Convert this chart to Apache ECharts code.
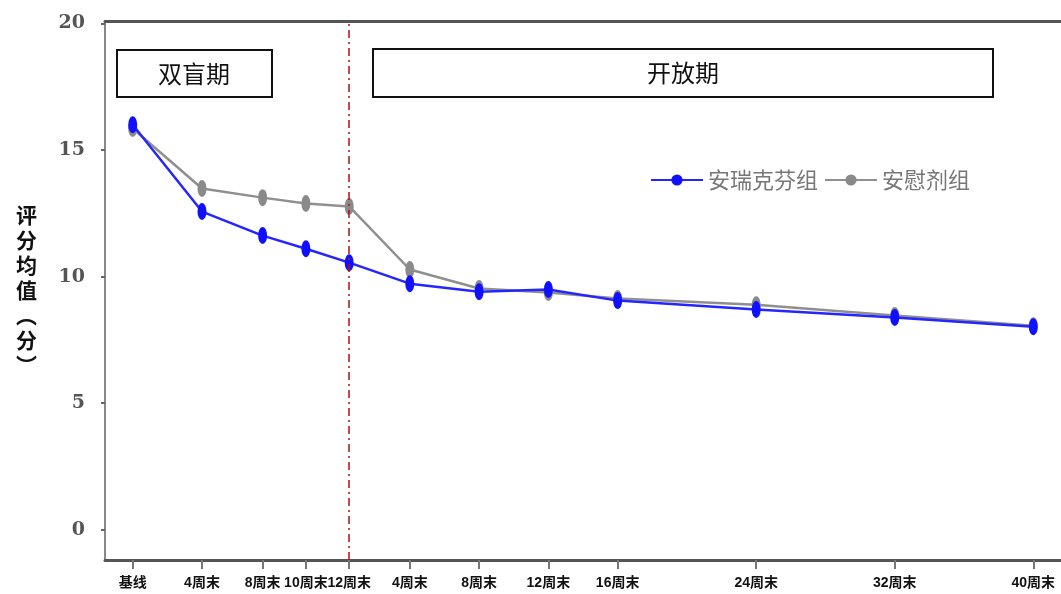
<!DOCTYPE html>
<html>
<head>
<meta charset="utf-8">
<script src="https://cdn.jsdelivr.net/npm/echarts@6/dist/echarts.min.js"></script>
<style>
  html, body { margin: 0; padding: 0; background: #fff; }
  #chart { width: 1061px; height: 594px; }
</style>
</head>
<body>
<div id="chart"></div>
<script>
// x positions in weeks as drawn (open phase continues after the blinded 12 weeks)
const weekPos = [0, 4, 7.5, 10, 12.5, 16, 20, 24, 28, 36, 44, 52]
const weekLabels = ['基线', '4周末', '8周末', '10周末', '12周末', '4周末', '8周末', '12周末', '16周末', '24周末', '32周末', '40周末']
const yTicks = [0, 5, 10, 15, 20]
const drugName = '安瑞克芬组'
const placeboName = '安慰剂组'
const drugScores = [16.0, 12.57, 11.62, 11.1, 10.55, 9.72, 9.4, 9.49, 9.05, 8.7, 8.38, 8.02]
const placeboScores = [15.85, 13.48, 13.12, 12.89, 12.77, 10.28, 9.53, 9.37, 9.13, 8.89, 8.46, 8.06]
const phaseSplit = 12.5

const labelMap = {}
weekPos.forEach((w, i) => { labelMap[w] = weekLabels[i] })

const pair = (vals) => vals.map((v, i) => [weekPos[i], v])

const chart = echarts.init(document.getElementById('chart'))

chart.setOption({
    animation: false,
    grid: { left: 105, right: 0, top: 21, bottom: 34 },
    legend: {
        left: 645, top: 164,
        itemWidth: 52, itemHeight: 14, itemGap: 6,
        textStyle: { fontSize: 22, color: '#777', fontFamily: 'Noto Sans CJK SC' },
        data: [drugName, placeboName]
    },
    xAxis: [{
        type: 'value',
        min: -1.6, max: 53.6,
        splitLine: { show: false },
        axisLine: { onZero: false, lineStyle: { color: '#555', width: 3 } },
        axisTick: { customValues: weekPos, length: 9, lineStyle: { color: '#777', width: 2 } },
        axisLabel: {
            customValues: weekPos,
            formatter: (v) => labelMap[v] || '',
            margin: 16,
            fontSize: 14, fontWeight: 'bold', color: '#111',
            fontFamily: 'Liberation Sans, Noto Sans CJK SC'
        }
    }, {
        type: 'value', position: 'top',
        min: -1.6, max: 53.6,
        splitLine: { show: false },
        axisLine: { onZero: false, lineStyle: { color: '#555', width: 3 } },
        axisTick: { show: false },
        axisLabel: { show: false }
    }],
    yAxis: {
        type: 'value',
        min: -1.2, max: 20.1,
        splitLine: { show: false },
        axisLine: { show: true, onZero: false, lineStyle: { color: '#888', width: 2 } },
        axisTick: { show: true, customValues: yTicks, length: 4, lineStyle: { color: '#666', width: 2 } },
        axisLabel: {
            customValues: yTicks,
            margin: 20,
            fontSize: 19, fontWeight: 'bold', color: '#555',
            fontFamily: 'DejaVu Serif'
        },
        name: '评\n分\n均\n值\n︵\n分\n︶',
        nameLocation: 'middle',
        nameRotate: 0,
        nameGap: 68,
        nameTextStyle: {
            fontSize: 21, fontWeight: 'bold', color: '#111',
            lineHeight: 25, fontFamily: 'Noto Sans CJK SC'
        }
    },
    graphic: [
        {
            type: 'group', left: 116, top: 49,
            children: [
                { type: 'rect', shape: { width: 155, height: 47 }, style: { fill: '#fff', stroke: '#111', lineWidth: 2 } },
                { type: 'text', x: 77, y: 24, style: { text: '双盲期', fontSize: 24, fill: '#111', align: 'center', verticalAlign: 'middle', fontFamily: 'Noto Sans CJK SC' } }
            ]
        },
        {
            type: 'group', left: 372, top: 48,
            children: [
                { type: 'rect', shape: { width: 620, height: 48 }, style: { fill: '#fff', stroke: '#111', lineWidth: 2 } },
                { type: 'text', x: 310, y: 24, style: { text: '开放期', fontSize: 24, fill: '#111', align: 'center', verticalAlign: 'middle', fontFamily: 'Noto Sans CJK SC' } }
            ]
        }
    ],
    series: [
        {
            name: placeboName,
            type: 'line',
            data: pair(placeboScores),
            symbol: 'circle',
            symbolSize: [9, 17],
            color: '#6f6f6f',
            itemStyle: { color: '#8a8a8a' },
            lineStyle: { color: '#8f8f8f', width: 2.5 },
            z: 2
        },
        {
            name: drugName,
            type: 'line',
            data: pair(drugScores),
            symbol: 'circle',
            symbolSize: [9, 17],
            color: '#3a1cff',
            itemStyle: { color: '#1010ff' },
            lineStyle: { color: '#2525ff', width: 2.5 },
            z: 3,
            markLine: {
                symbol: 'none',
                silent: true,
                label: { show: false },
                lineStyle: { color: '#b01010', type: [8, 4, 2, 4], width: 1.5 },
                data: [{ xAxis: phaseSplit }]
            }
        }
    ]
})
</script>
</body>
</html>
